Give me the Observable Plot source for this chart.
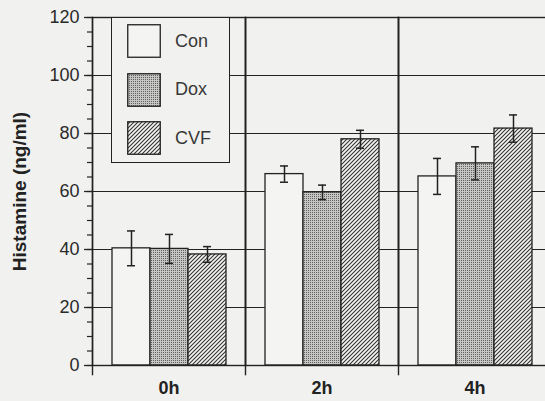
<!DOCTYPE html>
<html>
<head>
<meta charset="utf-8">
<script src="https://cdn.jsdelivr.net/npm/d3@7"></script>
<script src="https://cdn.jsdelivr.net/npm/@observablehq/plot@0.6"></script>
<style>
  html, body { margin: 0; padding: 0; background: #f1f1ef; overflow: hidden; }
  #wrap { position: relative; width: 545px; height: 401px; }
  #wrap svg.plot-main { position: absolute; left: 0; top: 0; }
  g[aria-label="y-axis label"] text { font-weight: bold; font-size: 19px; fill: #222; }
  g[aria-label="fx-axis tick label"] text { font-weight: bold; font-size: 18px; fill: #222; }
  #legend {
    position: absolute; left: 111px; top: 17px; width: 119px; height: 146px;
    box-sizing: border-box; border: 1.5px solid #222; background: #f1f1ef;
    font-family: "Liberation Sans", Arial, sans-serif; font-size: 18px; color: #383838;
  }
  #legend .row { position: absolute; left: 15px; display: flex; align-items: center; height: 33px; }
  #legend .row span { margin-left: 14px; }
</style>
</head>
<body>
<div id="wrap"></div>
<script>
// ---- data ----
const times = ["0h", "2h", "4h"];
const groups = ["Con", "Dox", "CVF"];
const conValues = [40.4, 66.0, 65.2];
const conErrors = [6.0, 2.8, 6.2];
const doxValues = [40.2, 59.7, 69.7];
const doxErrors = [5.0, 2.5, 5.7];
const cvfValues = [38.3, 78.0, 81.7];
const cvfErrors = [2.7, 3.1, 4.7];
const yMajorTicks = [0, 20, 40, 60, 80, 100, 120];
const yMinorTicks = d3.range(0, 121, 5);
const yGridTicks = [20, 40, 60, 80, 100];
const yLabel = "Histamine (ng/ml)";

const series = {Con: [conValues, conErrors], Dox: [doxValues, doxErrors], CVF: [cvfValues, cvfErrors]};
const table = [];
times.forEach((t, i) => groups.forEach(g => {
  table.push({time: t, group: g, value: series[g][0][i], err: series[g][1][i]});
}));

const ink = "#222";
const fills = ["#f4f4f2", "url(#dox)", "url(#cvf)"];

const plot = Plot.plot({
  width: 545,
  height: 401,
  marginTop: 17,
  marginBottom: 36,
  marginLeft: 91,
  marginRight: -7,
  style: {background: "transparent", fontFamily: "'Liberation Sans', Arial, sans-serif", fontSize: "18px", color: "#2a2a2a", overflow: "hidden"},
  fx: {domain: times, padding: 0, label: null, tickSize: 0, tickPadding: 16, axis: "bottom"},
  x: {domain: groups, paddingInner: 0, paddingOuter: 0.5, axis: null},
  y: {domain: [0, 120]},
  color: {domain: groups, range: fills},
  marks: [
    Plot.gridY(yGridTicks, {stroke: ink, strokeOpacity: 1, strokeWidth: 1.2}),
    Plot.barY(table, {fx: "time", x: "group", y: "value", fill: "group", stroke: ink, strokeWidth: 1.3}),
    Plot.frame({stroke: ink, strokeWidth: 1.4}),
    Plot.frame({anchor: "left", insetBottom: -9, stroke: ink, strokeWidth: 1.4}),
    Plot.ruleX(table, {fx: "time", x: "group", y1: d => d.value - d.err, y2: d => d.value + d.err, stroke: ink, strokeWidth: 1.5}),
    Plot.tickY(table, {fx: "time", x: "group", y: d => d.value - d.err, insetLeft: 15, insetRight: 15, stroke: ink, strokeWidth: 1.5}),
    Plot.tickY(table, {fx: "time", x: "group", y: d => d.value + d.err, insetLeft: 15, insetRight: 15, stroke: ink, strokeWidth: 1.5}),
    Plot.axisY({ticks: yMinorTicks, tickSize: 5, text: null, label: null, stroke: ink, strokeWidth: 1.2}),
    Plot.axisY({ticks: yMajorTicks, tickSize: 8, tickPadding: 5, tickFormat: d => String(d), fontSize: 18, label: yLabel, labelArrow: false, labelAnchor: "center", labelOffset: 80, stroke: ink, strokeWidth: 1.3})
  ]
});
plot.classList.add("plot-main");

// patterns for Dox (stipple) and CVF (diagonal hatch)
d3.select(plot).insert("defs", ":first-child").html(`
  <pattern id="dox" patternUnits="userSpaceOnUse" width="2" height="2">
    <rect width="2" height="2" fill="#c6c6c4"/>
    <rect width="1" height="1" fill="#606060"/>
  </pattern>
  <pattern id="cvf" patternUnits="userSpaceOnUse" width="4" height="4">
    <rect width="4" height="4" fill="#f4f4f2"/>
    <path d="M-1,1 l2,-2 M0,4 l4,-4 M3,5 l2,-2" stroke="#333" stroke-width="1.1"/>
  </pattern>`);

const wrap = document.getElementById("wrap");
wrap.appendChild(plot);

// legend box inside the plot area
const legend = document.createElement("div");
legend.id = "legend";
groups.forEach((g, i) => {
  const row = document.createElement("div");
  row.className = "row";
  row.style.top = (6.5 + i * 48.5) + "px";
  row.innerHTML = `<svg width="34" height="34"><rect x="0.75" y="0.75" width="32.5" height="32.5" fill="${fills[i]}" stroke="${ink}" stroke-width="1.3"/></svg><span>${g}</span>`;
  legend.appendChild(row);
});
wrap.appendChild(legend);
</script>
</body>
</html>
